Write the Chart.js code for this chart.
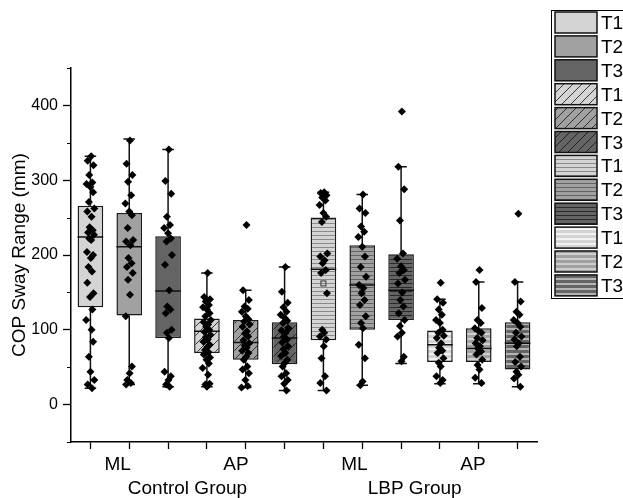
<!DOCTYPE html>
<html><head><meta charset="utf-8">
<script src="https://cdn.jsdelivr.net/npm/chart.js@4.4.0/dist/chart.umd.min.js"></script>
<style>html,body{margin:0;padding:0;background:#fff;overflow:hidden}</style>
</head><body>
<canvas id="c" width="623" height="498"></canvas>
<script>
// ---------- data ----------
const BOX_LABELS = ['T1','T2','T3','T1','T2','T3','T1','T2','T3','T1','T2','T3'];
const MEASURE_LABELS = ['ML','AP','ML','AP'];
const MEASURE_POS = [1.7, 4.75, 7.8, 10.85];
const GROUP_LABELS = ['Control Group','LBP Group'];
const GROUP_POS = [3.5, 9.35];
const Y_TICKS = [0,100,200,300,400];
const Y_MINOR = [-50,50,150,250,350,450];

const MINS    = [22, 27, 24, 24, 23, 19, 19, 26, 55, 28, 28, 24];
const Q1      = [130,119, 89, 69, 60, 54, 86,100,113, 57, 57, 47];
const MEDIANS = [224,211,152, 98, 83, 89,181,160,153, 80, 75, 82];
const Q3      = [266,256,225,115,113,110,250,213,201, 99,102,110];
const MAXS    = [332,355,341,176,153,184,284,281,318,141,164,164];
const MEANS   = [null,null,null,null,null,null,162,150,null,null,null,null];

const CTRL_ML_T1 = [332,326,320,307,297,295,291,284,271,262,258,251,237,233,230,227,222,220,204,200,196,184,178,163,149,144,127,113,100,84,64,44,33,27,22];
const CTRL_ML_T2 = [353,322,307,298,280,269,258,253,236,220,218,213,196,189,184,176,167,147,118,51,42,33,29,27];
const CTRL_ML_T3 = [341,299,282,251,240,236,229,222,218,200,187,153,131,127,122,100,96,89,44,38,33,27,24];
const CTRL_AP_T1 = [176,144,141,138,133,130,127,122,118,113,110,107,104,100,97,93,90,87,84,80,77,73,70,67,63,60,55,49,40,28,27,24];
const CTRL_AP_T2 = [240,153,140,131,128,124,118,114,111,107,104,98,95,91,86,82,79,76,72,69,64,60,51,47,42,33,25,23];
const CTRL_AP_T3 = [184,151,136,130,124,120,116,112,109,102,99,96,91,87,83,78,74,69,65,60,56,51,42,38,33,28,19];
const LBP_ML_T1  = [284,283,280,277,273,267,256,251,244,202,198,193,189,180,176,149,100,96,91,87,78,62,38,29,19];
const LBP_ML_T2  = [281,262,256,238,231,224,211,198,184,171,160,156,149,140,133,118,109,102,80,62,31,26];
const LBP_ML_T3  = [392,318,288,246,202,195,185,180,176,167,162,150,140,131,122,113,105,96,91,64,58];
const LBP_AP_T1  = [163,141,136,127,120,113,109,100,96,92,89,82,76,72,69,62,56,51,38,33,29];
const LBP_AP_T2  = [180,164,129,113,109,102,98,96,89,86,82,78,75,71,67,60,53,47,36,29];
const LBP_AP_T3  = [255,164,138,124,120,113,109,104,96,91,87,82,78,64,57,51,44,40,35,24];
const POINT_SETS = [CTRL_ML_T1,CTRL_ML_T2,CTRL_ML_T3,CTRL_AP_T1,CTRL_AP_T2,CTRL_AP_T3,
                    LBP_ML_T1,LBP_ML_T2,LBP_ML_T3,LBP_AP_T1,LBP_AP_T2,LBP_AP_T3];
const JITTER = [0.02,-0.07,0.08,-0.03,0.05,-0.10,0.00,0.07,-0.04,0.10,-0.08,0.03,-0.02,0.06,-0.06,0.09,-0.03,0.02,-0.09,0.07,
                0.01,-0.05,0.04,-0.08,0.08,-0.01,0.05,-0.11,0.03,0.07,-0.04,0.00,0.10,-0.07,0.04,-0.03,0.06,-0.08,0.02,0.03];

// ---------- styles ----------
const FONT = '"Liberation Sans", Arial, sans-serif';
const GRAYS = ['#d4d4d4','#a1a1a1','#646464'];
const DARK_LINES = ['#8a8a8a','#646464','#2a2a2a'];
const LIGHT_LINES = ['#f2f2f2','#cfcfcf','#b4b4b4'];

function makeFill(i){
  const g = i % 3, kind = Math.floor(i/3);
  if (kind === 0) return GRAYS[g];
  const c = document.createElement('canvas');
  const ctx = c.getContext('2d');
  if (kind === 1){
    c.width = 9; c.height = 9;
    ctx.fillStyle = GRAYS[g]; ctx.fillRect(0,0,9,9);
    ctx.strokeStyle = '#111'; ctx.lineWidth = 0.8;
    ctx.beginPath();
    ctx.moveTo(0,9); ctx.lineTo(9,0);
    ctx.moveTo(-1,1); ctx.lineTo(1,-1);
    ctx.moveTo(8,10); ctx.lineTo(10,8);
    ctx.stroke();
  } else if (kind === 2){
    c.width = 4; c.height = 4;
    ctx.fillStyle = GRAYS[g]; ctx.fillRect(0,0,4,4);
    ctx.fillStyle = DARK_LINES[g]; ctx.fillRect(0,3,4,1);
  } else {
    c.width = 5; c.height = 5;
    ctx.fillStyle = GRAYS[g]; ctx.fillRect(0,0,5,5);
    ctx.fillStyle = LIGHT_LINES[g]; ctx.fillRect(0,3,5,2);
  }
  return ctx.createPattern(c,'repeat');
}
const FILLS = BOX_LABELS.map((_,i)=>makeFill(i));

const boxData = BOX_LABELS.map((_,i)=>({x:i+1, y:[Q1[i],Q3[i]]}));
const pointData = [];
POINT_SETS.forEach((set,i)=>set.forEach((v,j)=>pointData.push({x:i+1+JITTER[j%JITTER.length], y:v})));

// ---------- plugins ----------
const boxParts = {
  id:'boxParts',
  afterDatasetDraw(chart,args){
    if (args.index !== 0) return;
    const {ctx, scales:{x,y}} = chart;
    const meta = chart.getDatasetMeta(0);
    ctx.save();
    ctx.strokeStyle = '#111'; ctx.lineWidth = 1.5;
    BOX_LABELS.forEach((_,i)=>{
      const bar = meta.data[i];
      const cx = x.getPixelForValue(i+1);
      const hw = bar.width/2;
      const cap = hw*0.45;
      ctx.beginPath();
      ctx.moveTo(cx, y.getPixelForValue(Q3[i])); ctx.lineTo(cx, y.getPixelForValue(MAXS[i]));
      ctx.moveTo(cx-cap, y.getPixelForValue(MAXS[i])); ctx.lineTo(cx+cap, y.getPixelForValue(MAXS[i]));
      ctx.moveTo(cx, y.getPixelForValue(Q1[i])); ctx.lineTo(cx, y.getPixelForValue(MINS[i]));
      ctx.moveTo(cx-cap, y.getPixelForValue(MINS[i])); ctx.lineTo(cx+cap, y.getPixelForValue(MINS[i]));
      ctx.moveTo(cx-hw, y.getPixelForValue(MEDIANS[i])); ctx.lineTo(cx+hw, y.getPixelForValue(MEDIANS[i]));
      ctx.stroke();
      if (MEANS[i] !== null){
        ctx.save(); ctx.lineWidth = 1; ctx.strokeStyle = '#333';
        const my = y.getPixelForValue(MEANS[i]);
        ctx.strokeRect(cx-2.5, my-2.5, 5, 5);
        ctx.restore();
      }
    });
    ctx.restore();
  },
  afterDraw(chart){
    const {ctx, scales:{x,y}, chartArea} = chart;
    ctx.save();
    // minor y ticks
    ctx.strokeStyle = '#000'; ctx.lineWidth = 1.2;
    ctx.beginPath();
    Y_MINOR.forEach(v=>{ const py = Math.round(y.getPixelForValue(v))+0.5; ctx.moveTo(chartArea.left-4, py); ctx.lineTo(chartArea.left, py); });
    ctx.stroke();
    // category labels
    ctx.fillStyle = '#000'; ctx.textAlign = 'center'; ctx.textBaseline = 'alphabetic';
    ctx.font = '19px ' + FONT;
    MEASURE_LABELS.forEach((t,i)=>ctx.fillText(t, x.getPixelForValue(MEASURE_POS[i]), chartArea.bottom+28));
    GROUP_LABELS.forEach((t,i)=>ctx.fillText(t, x.getPixelForValue(GROUP_POS[i]), chartArea.bottom+52));
    // legend
    const lx = 551, ly = 10, pitch = 23.9;
    ctx.lineWidth = 1; ctx.strokeStyle = '#000';
    ctx.strokeRect(lx+0.5, ly+0.5, 100, 288);
    ctx.font = '19px ' + FONT; ctx.textAlign = 'left';
    BOX_LABELS.forEach((t,i)=>{
      const sy = 12 + i*pitch;
      ctx.fillStyle = FILLS[i];
      ctx.fillRect(555, sy, 42, 21);
      ctx.lineWidth = 1.5; ctx.strokeStyle = '#111';
      ctx.strokeRect(555, sy, 42, 21);
      ctx.fillStyle = '#000';
      ctx.fillText(t, 601, sy+17);
    });
    ctx.restore();
  }
};

new Chart(document.getElementById('c'), {
  type:'bar',
  data:{
    datasets:[
      {type:'bar', data:boxData, backgroundColor:FILLS, borderColor:'#1a1a1a', borderWidth:1.5,
       borderSkipped:false, barPercentage:0.66, categoryPercentage:1, order:2},
      {type:'scatter', data:pointData, pointStyle:'rectRot', pointRadius:4, pointHoverRadius:4,
       backgroundColor:'#000', borderColor:'#000', borderWidth:0, order:1}
    ]
  },
  options:{
    responsive:false, devicePixelRatio:1, animation:false,
    layout:{padding:{left:0, top:68, right:86, bottom:0}},
    plugins:{legend:{display:false}, tooltip:{enabled:false}},
    scales:{
      x:{type:'linear', min:0.5, max:12.5, offset:false,
         afterBuildTicks:s=>{ s.ticks = BOX_LABELS.map((_,i)=>({value:i+1})); },
         afterFit:s=>{ s.height = 56; },
         ticks:{display:false},
         grid:{display:true, drawOnChartArea:false, drawTicks:true, tickLength:7, tickColor:'#000', tickWidth:1.3, offset:false},
         border:{display:true, color:'#000', width:1.5}},
      y:{type:'linear', min:-50, max:450,
         afterBuildTicks:s=>{ s.ticks = Y_TICKS.map(v=>({value:v})); },
         afterFit:s=>{ s.width = 71; },
         ticks:{color:'#000', font:{family:FONT, size:16}, padding:5},
         grid:{display:true, drawOnChartArea:false, drawTicks:true, tickLength:8, tickColor:'#000', tickWidth:1.3},
         border:{display:true, color:'#000', width:1.5},
         title:{display:true, text:'COP Sway Range (mm)', color:'#000', font:{family:FONT, size:19}, padding:{top:8,bottom:0}}}
    }
  },
  plugins:[boxParts]
});
</script>
</body></html>
